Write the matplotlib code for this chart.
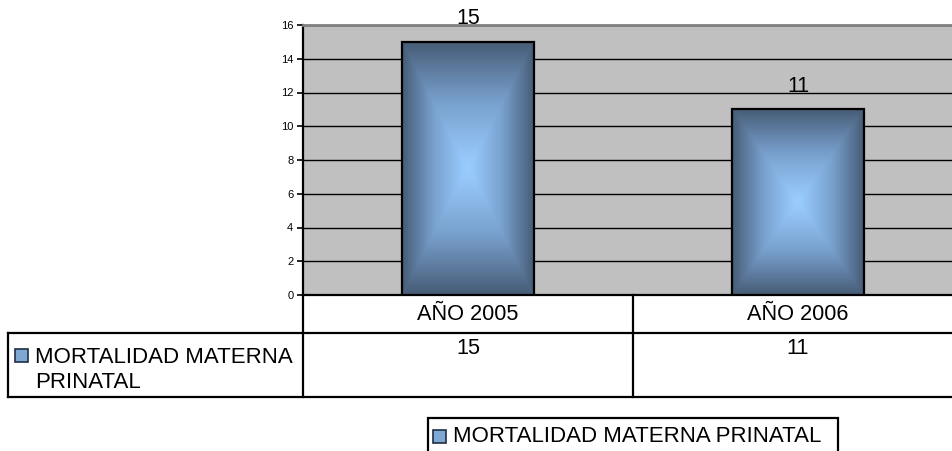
import numpy as np
import matplotlib
matplotlib.use('Agg')
import matplotlib.pyplot as plt
import matplotlib.transforms as mtransforms
from matplotlib.patches import Rectangle
from matplotlib.lines import Line2D
from matplotlib.colors import LinearSegmentedColormap

plt.rcParams['font.family'] = ['Liberation Sans', 'DejaVu Sans']

categories = ['AÑO 2005', 'AÑO 2006']
values = [15, 11]
series_name = 'MORTALIDAD MATERNA PRINATAL'
row_header = 'MORTALIDAD MATERNA\nPRINATAL'
yticks = [0, 2, 4, 6, 8, 10, 12, 14, 16]

W, H = 952, 451
C_LIGHT = '#9ACDFF'
C_DARK = '#475C76'
cmap = LinearSegmentedColormap.from_list('bar', [C_LIGHT, '#779FCC', C_DARK])

def fx(px): return px / W
def fy(py): return 1 - py / H

fig = plt.figure(figsize=(W / 100, H / 100), dpi=100)
ax = fig.add_axes([fx(303), fy(295), (963 - 303) / W, (295 - 25) / H])
ax.set_facecolor('#C0C0C0')

x = np.arange(len(categories))
bars = ax.bar(x, values, width=0.397, facecolor='none', edgecolor='black', linewidth=1.6, zorder=4)

# rectangular "from centre" gradient fill in each bar
n = 200
u = np.linspace(-1, 1, n)
U, V = np.meshgrid(u, u)
grad = np.maximum(np.abs(U), np.abs(V)) ** 1.1
for b in bars:
    x0, w, h = b.get_x(), b.get_width(), b.get_height()
    im = ax.imshow(grad, cmap=cmap, extent=(x0, x0 + w, 0, h), aspect='auto',
                   interpolation='bilinear', zorder=3, vmin=0, vmax=1)
    im.set_clip_path(b)
    ax.annotate(f'{b.get_height():g}', (x0 + w / 2, h), xytext=(0, 9), textcoords='offset points',
                ha='center', va='bottom', fontsize=15.5, zorder=6)

ax.set_xlim(-0.5, len(categories) - 0.5)
ax.set_ylim(0, 16)
ax.set_yticks(yticks)
ax.set_xticks([])
ax.yaxis.grid(True, color='black', linewidth=1.0)
ax.set_axisbelow(True)
ax.tick_params(axis='y', direction='out', length=4, width=1.2, labelsize=8, pad=3)
ax.spines['left'].set_linewidth(1.6)
ax.spines['bottom'].set_linewidth(1.6)
ax.spines['top'].set_color('#808080')
ax.spines['top'].set_linewidth(2.0)
ax.spines['right'].set_visible(False)

# data table below the plot
lw = 1.6
def fline(x1, y1, x2, y2):
    fig.add_artist(Line2D([fx(x1), fx(x2)], [fy(y1), fy(y2)], color='black', linewidth=lw))

fline(8, 333, 963, 333)
fline(8, 397, 963, 397)
fline(303, 295, 303, 397)
fline(633, 295, 633, 397)
fline(8, 333, 8, 397)

blend = mtransforms.blended_transform_factory(ax.transData, fig.transFigure)
for i, (c, v) in enumerate(zip(categories, values)):
    fig.text(x[i], fy(315), c, transform=blend, ha='center', va='center', fontsize=15.7)
    fig.text(x[i], fy(349), f'{v}', transform=blend, ha='center', va='center', fontsize=15.7)

def swatch(px, py, s):
    fig.add_artist(Rectangle((fx(px), fy(py + s)), s / W, s / H, facecolor='#7EA7D4',
                             edgecolor='#1F2F45', linewidth=1.2))

swatch(15, 349, 13)
fig.text(fx(35), fy(370), row_header, ha='left', va='center', fontsize=16, linespacing=1.25)

# legend box at the bottom
fig.add_artist(Rectangle((fx(428), fy(470)), (838 - 428) / W, (470 - 418) / H,
                         facecolor='white', edgecolor='black', linewidth=lw))
swatch(433, 430, 13)
fig.text(fx(453), fy(437), series_name, ha='left', va='center', fontsize=16)

fig.savefig('out.png', dpi=100)
